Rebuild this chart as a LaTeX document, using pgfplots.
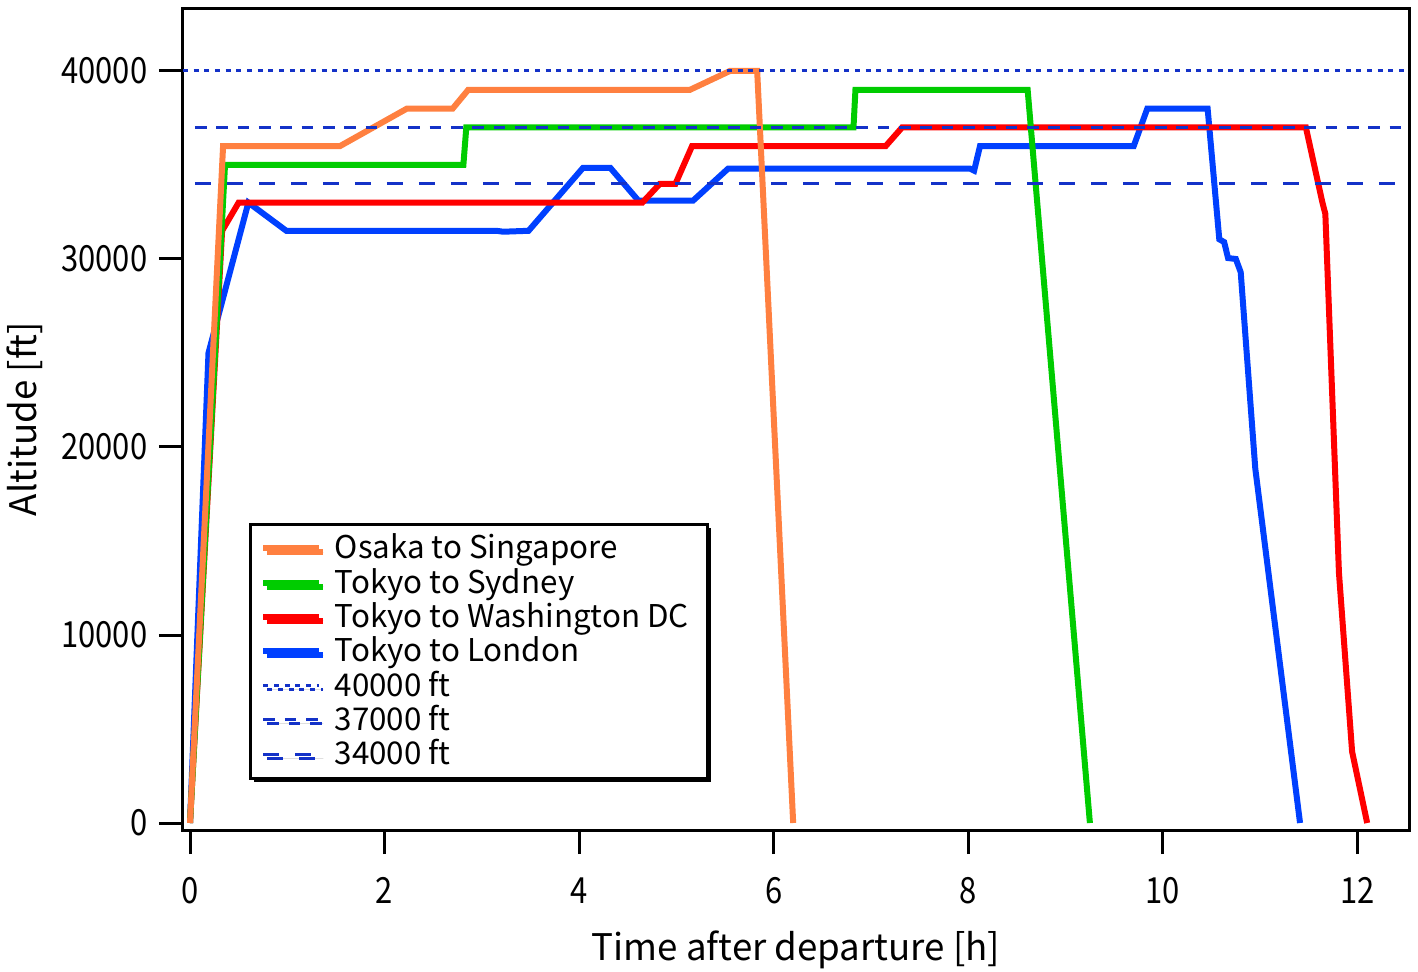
\documentclass[border=0pt]{standalone}
\usepackage{pgfplots}
\pgfplotsset{compat=1.18}
\usepackage{fontspec}
\setmainfont{Noto Sans CJK JP}
\newfontfamily\tickfont[FakeStretch=0.86]{Noto Sans CJK JP}
\usetikzlibrary{shadows}
\definecolor{cOrange}{RGB}{255,128,64}
\definecolor{cGreen}{RGB}{0,204,0}
\definecolor{cRed}{RGB}{255,0,0}
\definecolor{cBlue}{RGB}{0,64,255}
\definecolor{cRef}{RGB}{20,50,200}
\begin{document}
\begin{tikzpicture}
\begin{axis}[
  scale only axis,
  width=367.8pt, height=246.6pt,
  xmin=-0.072, xmax=12.53,
  ymin=-372, ymax=43350,
  xtick={0,2,4,6,8,10,12},
  ytick={0,10000,20000,30000,40000},
  scaled y ticks=false,
  tick pos=left,
  tick align=outside,
  major tick length=7.2pt,
  axis line style={line width=0.9pt},
  every tick/.style={line width=0.9pt, black},
  /pgf/number format/.cd, fixed, 1000 sep={}, assume math mode=true,
  /pgfplots/.cd,
  ticklabel style={font=\tickfont\fontsize{10.8}{12}\selectfont},
  xticklabel style={yshift=-3.5pt},
  yticklabel style={xshift=0pt},
  xlabel={Time after departure [h]},
  ylabel={Altitude [ft]},
  label style={font=\fontsize{11}{13}\selectfont},
  xlabel style={at={(axis description cs:0.5,0)}, anchor=center, yshift=-36pt},
  ylabel style={at={(axis description cs:0,0.5)}, anchor=center, yshift=47.4pt},
  legend style={at={(axis description cs:0.0538,0.3735)}, anchor=north west,
    draw=black, line width=0.9pt, fill=white,
    drop shadow={shadow xshift=1.2pt, shadow yshift=-1.2pt, fill=black, opacity=1},
    font=\fontsize{9.4}{10.3}\selectfont, row sep=0pt,
    nodes={text height=7.7pt, text depth=1.3pt, inner ysep=0.65pt, inner xsep=2.5pt},
    inner xsep=3pt, inner ysep=2pt},
  legend cell align=left,
  legend image code/.code={\draw[#1] (0pt,0pt) -- (16.8pt,0pt);},
  legend style={/tikz/every odd column/.append style={column sep=1.2pt}},
]
\addlegendimage{cOrange, line width=1.8pt}
\addlegendentry{Osaka to Singapore}
\addlegendimage{cGreen, line width=1.8pt}
\addlegendentry{Tokyo to Sydney}
\addlegendimage{cRed, line width=1.8pt}
\addlegendentry{Tokyo to Washington DC}
\addlegendimage{cBlue, line width=1.8pt}
\addlegendentry{Tokyo to London}
\addlegendimage{cRef, line width=0.9pt, dash pattern=on 1.5pt off 1.7pt}
\addlegendentry{40000 ft}
\addlegendimage{cRef, line width=0.9pt, dash pattern=on 3.5pt off 2.9pt}
\addlegendentry{37000 ft}
\addlegendimage{cRef, line width=0.9pt, dash pattern=on 4.8pt off 4.8pt}
\addlegendentry{34000 ft}

% Tokyo to London
\addplot[cBlue, line width=1.8pt, forget plot] coordinates {
(0,0) (0.19,25000) (0.60,33000) (0.99,31500) (3.15,31500) (3.22,31450) (3.48,31500)
(4.04,34850) (4.32,34850) (4.61,33100) (5.17,33100) (5.53,34800) (8.02,34800)
(8.06,34700) (8.12,36000) (9.70,36000) (9.84,38000) (10.46,38000)
(10.58,31050) (10.63,30900) (10.67,30050) (10.75,30000) (10.80,29300)
(10.95,18850) (11.41,0)
};
% Tokyo to Washington DC
\addplot[cRed, line width=1.8pt, forget plot] coordinates {
(0,0) (0.33,31500) (0.50,33000) (4.65,33000) (4.83,34000) (4.99,34000)
(5.16,36000) (7.15,36000) (7.32,37000) (11.47,37000) (11.64,33000)
(11.67,32400) (11.81,13300) (11.945,3800) (12.10,0)
};
% Tokyo to Sydney
\addplot[cGreen, line width=1.8pt, forget plot] coordinates {
(0,0) (0.36,35000) (2.81,35000) (2.84,37000) (6.82,37000) (6.84,39000)
(8.61,39000) (9.25,0)
};
% Osaka to Singapore
\addplot[cOrange, line width=1.8pt, forget plot] coordinates {
(0,0) (0.34,36000) (1.54,36000) (2.23,38000) (2.70,38000) (2.86,39000)
(5.14,39000) (5.55,40000) (5.83,40000) (6.20,0)
};
% reference lines
\addplot[cRef, line width=0.9pt, dash pattern=on 1.5pt off 1.7pt, forget plot] coordinates {(-0.072,40000) (12.53,40000)};
\addplot[cRef, line width=0.9pt, dash pattern=on 3.5pt off 2.9pt, forget plot] coordinates {(0.05,37000) (12.53,37000)};
\addplot[cRef, line width=0.9pt, dash pattern=on 4.8pt off 4.8pt, forget plot] coordinates {(0.05,34000) (12.53,34000)};
\end{axis}
\pgfresetboundingbox
\path (current axis.south west) ++(-54.9pt,-42.6pt) coordinate (bbA);
\path (current axis.north east) ++(2.7pt,2.4pt) coordinate (bbB);
\useasboundingbox (bbA) rectangle (bbB);
\end{tikzpicture}
\end{document}
